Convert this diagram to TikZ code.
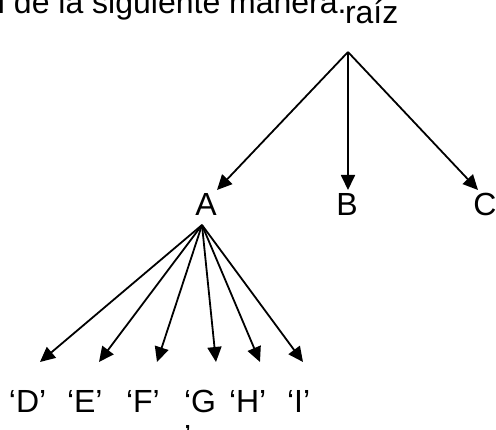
\documentclass[tikz,border=0pt]{standalone}
\usepackage{fontspec}
\setmainfont{Liberation Sans}
\usetikzlibrary{arrows.meta, positioning}
\tikzset{
  every picture/.style={line width=2pt},
  lbl/.style={inner sep=0pt, anchor=base, font=\fontsize{32}{35}\selectfont},
  leaf/.style={inner sep=0pt, anchor=north west, align=left, font=\fontsize{32}{35}\selectfont},
  arrow/.style={-{Triangle[length=15pt, width=14pt]}, draw=black, line width=1.8pt},
}

\begin{document}
\begin{tikzpicture}[x=1pt, y=-1pt]
  \useasboundingbox (0,0) rectangle (496,430);
  \clip (0,0) rectangle (496,430);
  % text above the tree
  \node[lbl, anchor=base west] (intro) at (-3,14) {l de la siguiente manera.};
  \node[lbl, anchor=base west] (raiz) at (344,24) {raíz};
  \coordinate (top) at (348,52);
  % first level
  \foreach \n/\x/\tx in {A/206/217, B/347/348, C/485/478}{
    \node[lbl] (\n) at (\x,216) {\n};
    \coordinate (\n-tip) at (\tx,190);
    \draw[arrow] (top) -- (\n-tip);
  }
  % children of A
  \coordinate (Atop) at (202,225);
  \foreach \n/\t/\x/\tx in {D/{‘D’}/8/40, E/{‘E’}/66/99, F/{‘F’}/125/157, G/{‘G\\’}/183/216, H/{‘H’}/228/260, I/{‘I’}/286/303}{
    \node[leaf] (\n) at (\x,389) {\t};
    \coordinate (\n-tip) at (\tx,362);
    \draw[arrow] (Atop) -- (\n-tip);
  }
\end{tikzpicture}
\end{document}
